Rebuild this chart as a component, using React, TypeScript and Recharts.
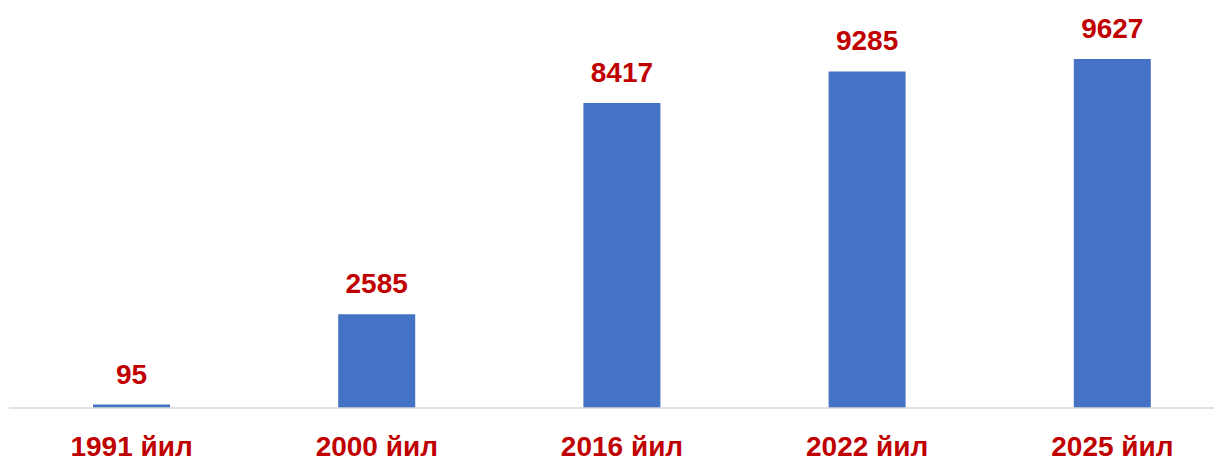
import React from "react";
import { BarChart, Bar, XAxis, YAxis, LabelList } from "recharts";

const categories = ["1991 йил", "2000 йил", "2016 йил", "2022 йил", "2025 йил"];
const values = [95, 2585, 8417, 9285, 9627];

const data = categories.map((c, i) => ({ name: c, value: values[i] }));

const RED = "#C00000";
const FONT = "'Liberation Sans', Arial, sans-serif";

const Tick = (props: any) => {
  const { x, y, payload } = props;
  return (
    <text
      x={x}
      y={y + 48}
      textAnchor="middle"
      fill={RED}
      fontFamily={FONT}
      fontWeight="bold"
      fontSize={28}
    >
      {payload.value}
    </text>
  );
};

export default function App() {
  return (
    <div style={{ width: 1214, height: 454, overflow: "hidden" }}>
      <BarChart
        width={1228}
        height={454}
        data={data}
        margin={{ top: 37.5, right: 1, bottom: 0, left: 1 }}
        barSize={77}
      >
        <XAxis
          dataKey="name"
          height={54}
          tickLine={false}
          tickSize={0}
          tickMargin={0}
          axisLine={{ stroke: "#D9D9D9", strokeWidth: 1.5 }}
          tick={<Tick />}
          interval={0}
        />
        <YAxis hide domain={[0, 10000]} />
        <Bar dataKey="value" fill="#4472C4" isAnimationActive={false}>
          <LabelList
            dataKey="value"
            position="top"
            offset={21}
            fill={RED}
            fontFamily={FONT}
            fontWeight="bold"
            fontSize={28}
          />
        </Bar>
      </BarChart>
    </div>
  );
}
